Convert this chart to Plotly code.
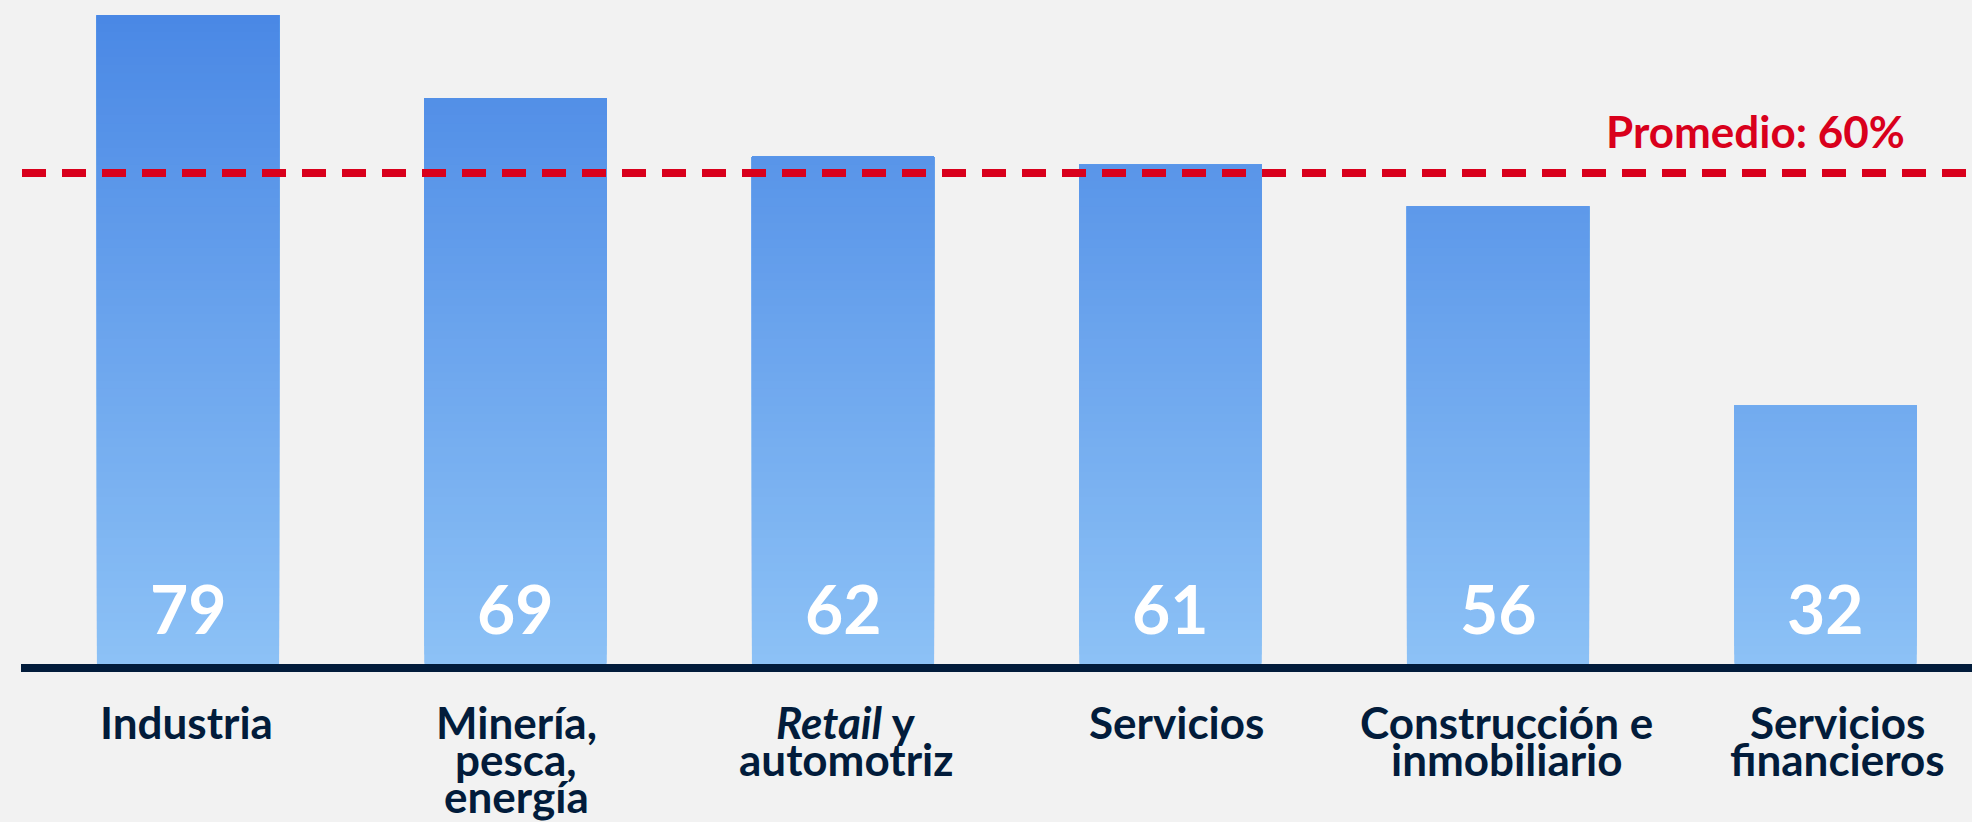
import plotly.graph_objects as go

# ---------------- data ----------------
categories = [
    "Industria",
    "Minería,<br>pesca,<br>energía",
    "<i>Retail</i> y<br>automotriz",
    "Servicios",
    "Construcción e<br>inmobiliario",
    "Servicios<br>financieros",
]
values = [79, 69, 62, 61, 56, 32]
average = 60
average_label = "Promedio: 60%"

# ---------------- style ----------------
BG = "#f2f2f2"
NAVY = "#021c3b"
RED = "#d9001c"
COLOR_BOTTOM = (141, 194, 246)
COLOR_TOP = (74, 136, 229)
FONT = "Lato"
W, H = 1972, 822
PLOT_BOTTOM = 671
PX_PER_UNIT = 8.30


def mix(frac):
    frac = max(0.0, min(1.0, frac))
    c = [round(b + (t - b) * frac) for b, t in zip(COLOR_BOTTOM, COLOR_TOP)]
    return "rgb({},{},{})".format(*c)


fig = go.Figure()

vmax = max(values)
for k in range(vmax):
    xs = [c for c, v in zip(categories, values) if v > k]
    ys = [v - k for v in values if v > k]
    fig.add_trace(go.Bar(
        x=xs, y=ys, base=[k] * len(xs),
        width=0.556,
        marker=dict(color=mix((k + 0.5) / vmax), line=dict(width=0)),
        hoverinfo="skip", showlegend=False,
    ))

# axis baseline
fig.add_shape(type="line", xref="paper", x0=21 / W, x1=1,
              yref="paper", y0=3 / PLOT_BOTTOM, y1=3 / PLOT_BOTTOM,
              line=dict(color=NAVY, width=8), layer="above")

# average line
fig.add_shape(type="line", xref="paper", x0=22 / W, x1=1,
              yref="y", y0=average, y1=average,
              line=dict(color=RED, width=8, dash="24px,16px"), layer="above")

fig.add_annotation(text=f"<b>{average_label}</b>", xref="paper", x=1907 / W,
                   xanchor="right", yref="y", y=average, yanchor="middle",
                   yshift=42, showarrow=False,
                   font=dict(family=FONT, size=44, color=RED, weight=900))

# value labels
for c, v in zip(categories, values):
    fig.add_annotation(text=f"<b>{v}</b>", x=c, y=0, yanchor="middle",
                       yshift=63, showarrow=False,
                       font=dict(family=FONT, size=66, color="white", weight=900))

# category labels (one annotation per line for tight spacing)
for i, c in enumerate(categories):
    for j, line in enumerate(c.split("<br>")):
        fig.add_annotation(text=f"<b>{line}</b>", x=c, y=0, yref="y",
                           yanchor="middle", yshift=-(51 + 37 * j),
                           xshift=-2 + 2.7 * i, showarrow=False,
                           font=dict(family=FONT, size=44, color=NAVY, weight=900))

x0 = -188 / 327.5
x1 = 5 + (W - 1825.5) / 327.5
fig.update_layout(
    width=W, height=H,
    paper_bgcolor=BG, plot_bgcolor=BG,
    margin=dict(l=0, r=0, t=0, b=H - PLOT_BOTTOM, pad=0),
    barmode="overlay",
    xaxis=dict(range=[x0, x1], showticklabels=False, showgrid=False,
               zeroline=False, showline=False, ticks="", fixedrange=True),
    yaxis=dict(range=[0, PLOT_BOTTOM / PX_PER_UNIT], showticklabels=False,
               showgrid=False, zeroline=False, showline=False, ticks="",
               fixedrange=True),
    font=dict(family=FONT),
)

fig.write_html(
    "out.html",
    config={"displayModeBar": False},
    post_script="document.body.style.margin='0';document.body.style.overflow='hidden';"
                "document.body.style.background='" + BG + "';",
)
